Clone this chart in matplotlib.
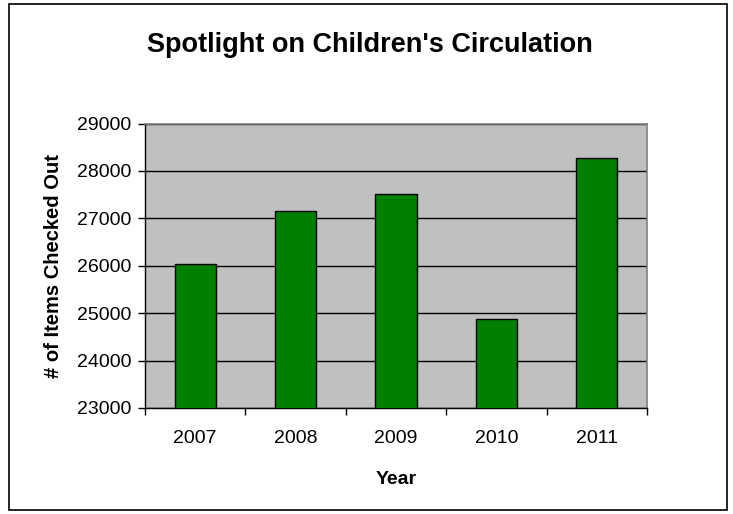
import matplotlib.pyplot as plt
from matplotlib.patches import Rectangle

plt.rcParams['font.family'] = ['Liberation Sans', 'DejaVu Sans']

years = ['2007', '2008', '2009', '2010', '2011']
items = [26035, 27160, 27520, 24875, 28275]

W, H = 733, 514
fig = plt.figure(figsize=(W / 100, H / 100), dpi=100)
ax = fig.add_axes([145 / W, 1 - 408 / H, 502 / W, 284.5 / H])

x = range(len(years))
ax.bar(x, items, width=0.41, bottom=0, color='#007f00', edgecolor='black',
       linewidth=1.0, zorder=3)

ax.set_facecolor('#c0c0c0')
ax.set_ylim(23000, 29000)
ax.set_xlim(-0.5, 4.5)
ax.set_yticks(range(23000, 29001, 1000))
ax.grid(axis='y', color='black', linewidth=1.0, zorder=1)

ax.set_xticks(list(x))
ax.set_xticklabels(years)
ax.set_xticks([i - 0.5 for i in range(len(years) + 1)], minor=True)
ax.tick_params(axis='x', which='major', length=0, pad=16, labelsize=14)
ax.tick_params(axis='x', which='minor', length=5, width=1, direction='out')
ax.tick_params(axis='y', length=5, width=1, labelsize=14, pad=5)

for side in ['top', 'right']:
    ax.spines[side].set_color('#808080')
    ax.spines[side].set_linewidth(1.2)
for side in ['left', 'bottom']:
    ax.spines[side].set_color('black')
    ax.spines[side].set_linewidth(1.0)

fig.text(396 / W, 1 - 479 / H, 'Year', ha='center', va='center',
         fontsize=14, fontweight='bold')
fig.text(54 / W, 1 - 266 / H, '# of Items Checked Out', ha='center',
         va='center', rotation=90, fontsize=14.5, fontweight='bold')
fig.text(370 / W, 1 - 45 / H, "Spotlight on Children's Circulation",
         ha='center', va='center', fontsize=19.5, fontweight='bold')

fig.patches.append(Rectangle((9 / W, 4 / H), 718 / W, 506 / H,
                             transform=fig.transFigure, fill=False,
                             edgecolor='black', linewidth=1.2))

fig.savefig('out.png', dpi=100)
